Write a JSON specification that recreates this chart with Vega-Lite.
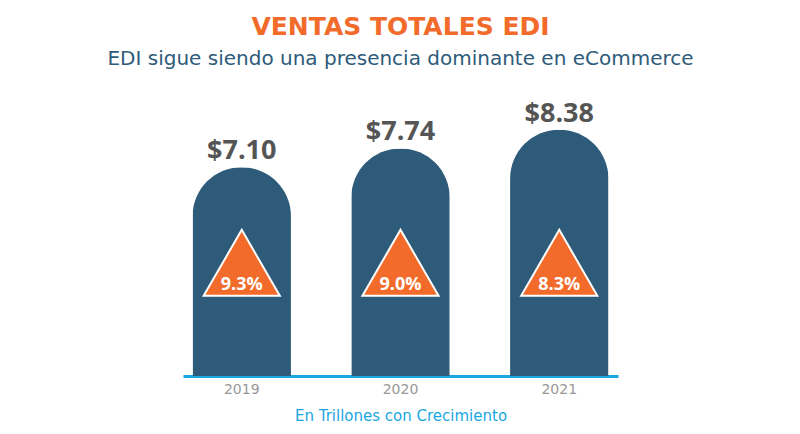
{
  "$schema": "https://vega.github.io/schema/vega-lite/v6.json",
  "width": 435,
  "height": 294,
  "autosize": "none",
  "padding": {"left": 183, "top": 82, "right": 182, "bottom": 58},
  "background": "white",
  "config": {"view": {"stroke": null}, "font": "Open Sans"},
  "title": {
    "text": "VENTAS TOTALES EDI",
    "subtitle": "EDI sigue siendo una presencia dominante en eCommerce",
    "anchor": "middle",
    "color": "#f26b2a",
    "fontSize": 25,
    "fontWeight": "bold",
    "font": "DejaVu Sans",
    "subtitleColor": "#2e5b7a",
    "subtitleFontSize": 20,
    "subtitleFont": "DejaVu Sans",
    "subtitlePadding": 9,
    "offset": 13
  },
  "data": {
    "values": [
      {"year": "2019", "value": 7.10, "label": "$7.10", "growth": "9.3%"},
      {"year": "2020", "value": 7.74, "label": "$7.74", "growth": "9.0%"},
      {"year": "2021", "value": 8.38, "label": "$8.38", "growth": "8.3%"}
    ]
  },
  "encoding": {
    "x": {
      "field": "year",
      "type": "nominal",
      "scale": {"paddingInner": 0.38, "paddingOuter": 0.06},
      "axis": {
        "labelAngle": 0,
        "domainColor": "#1aa7e0",
        "domainWidth": 3,
        "ticks": false,
        "labelColor": "#999999",
        "labelFontSize": 14,
        "labelFont": "DejaVu Sans",
        "labelPadding": 6,
        "title": "En Trillones con Crecimiento",
        "titleColor": "#1aa7e0",
        "titleFont": "DejaVu Sans",
        "titleFontSize": 15,
        "titleFontWeight": "normal",
        "titlePadding": 12
      }
    }
  },
  "layer": [
    {
      "mark": {"type": "bar", "color": "#2e5b7a", "cornerRadiusEnd": 49},
      "encoding": {
        "y": {"field": "value", "type": "quantitative", "scale": {"domain": [0, 10]}, "axis": null}
      }
    },
    {
      "mark": {"type": "text", "baseline": "alphabetic", "dy": -8, "fontSize": 27, "fontWeight": "bold", "color": "#555555"},
      "encoding": {
        "y": {"field": "value", "type": "quantitative"},
        "text": {"field": "label"}
      }
    },
    {
      "mark": {"type": "point", "shape": "triangle-up", "size": 5800, "filled": true, "fill": "#f26b2a", "stroke": "white", "strokeWidth": 2, "opacity": 1},
      "encoding": {
        "y": {"datum": 3.85, "type": "quantitative"}
      }
    },
    {
      "mark": {"type": "text", "baseline": "middle", "fontSize": 18, "fontWeight": "bold", "color": "white"},
      "encoding": {
        "y": {"datum": 3.1, "type": "quantitative"},
        "text": {"field": "growth"}
      }
    }
  ]
}
